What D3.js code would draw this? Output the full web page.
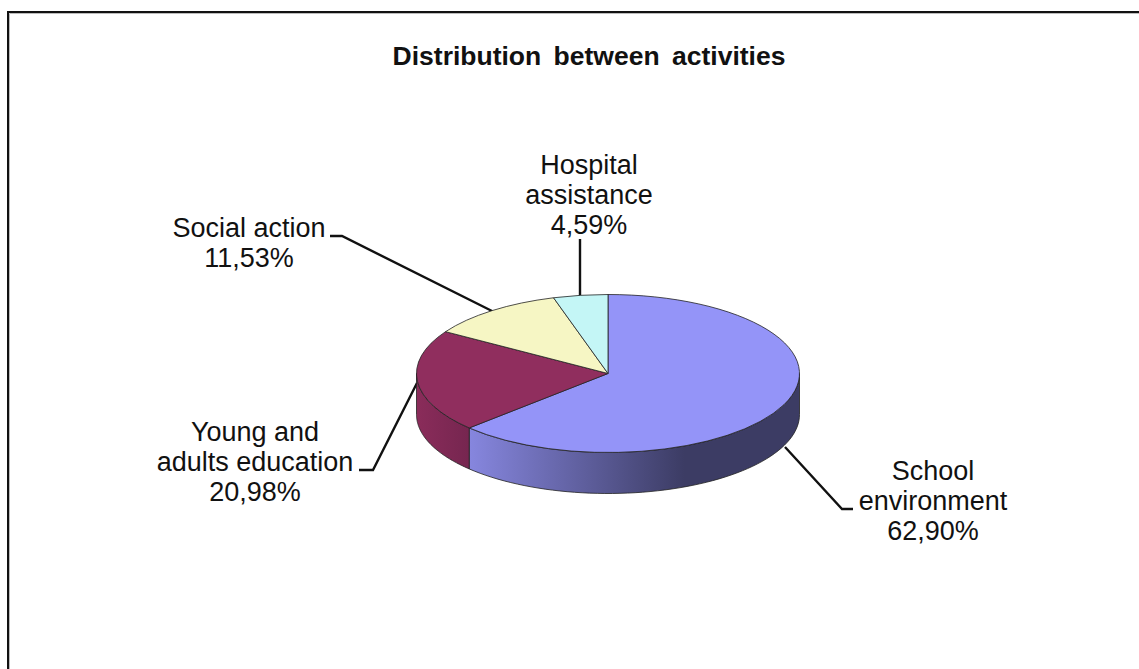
<!DOCTYPE html>
<html>
<head>
<meta charset="utf-8">
<script src="https://cdn.jsdelivr.net/npm/d3@7"></script>
<style>
  html, body { margin: 0; padding: 0; background: #fff; overflow: hidden; }
  text { font-family: "Liberation Sans", Arial, sans-serif; fill: #111; }
</style>
</head>
<body>
<svg id="chart"></svg>
<script>
const categories = ["School environment", "Young and adults education", "Social action", "Hospital assistance"];
const shares = [62.90, 20.98, 11.53, 4.59];
const shareLabels = ["62,90%", "20,98%", "11,53%", "4,59%"];
const labelLines = [["School", "environment"], ["Young and", "adults education"], ["Social action"], ["Hospital", "assistance"]];
const topColors = ["#9494f8", "#902e5e", "#f6f6c4", "#c4f6f6"];

const width = 1139;
const height = 669;
const cx = 608, cy = 373.5, rx = 191.5, ry = 79, depth = 41;

const svg = d3.select("#chart")
  .attr("width", width)
  .attr("height", height)
  .attr("viewBox", [0, 0, width, height]);

const defs = svg.append("defs");

const schoolSide = defs.append("linearGradient")
  .attr("id", "schoolSide")
  .attr("gradientUnits", "userSpaceOnUse")
  .attr("x1", cx - rx).attr("x2", cx + rx).attr("y1", 0).attr("y2", 0);
[[0.14, "#8686de"], [0.7, "#3c3c64"], [1, "#3c3c64"]].forEach(s => {
  schoolSide.append("stop").attr("offset", s[0]).attr("stop-color", s[1]);
});

const youngSide = defs.append("linearGradient")
  .attr("id", "youngSide")
  .attr("gradientUnits", "userSpaceOnUse")
  .attr("x1", cx - rx).attr("x2", cx - rx + 52).attr("y1", 0).attr("y2", 0);
[[0, "#8a2c5a"], [1, "#762650"]].forEach(s => {
  youngSide.append("stop").attr("offset", s[0]).attr("stop-color", s[1]);
});

// frame, open on the right and at the bottom
svg.append("path")
  .attr("d", "M8,669V12H1139")
  .attr("fill", "none")
  .attr("stroke", "#111")
  .attr("stroke-width", 2);
svg.append("path")
  .attr("d", "M9.5,669V13.5H1139")
  .attr("fill", "none")
  .attr("stroke", "#bbb")
  .attr("stroke-width", 1);

svg.append("text")
  .attr("x", 589)
  .attr("y", 64.5)
  .attr("text-anchor", "middle")
  .attr("font-size", 26.5)
  .attr("font-weight", "bold")
  .attr("word-spacing", 5)
  .text("Distribution between activities");

const pie = d3.pie().sort(null).value(d => d);
const slices = pie(shares);

// leader lines sit under the pie
const leaders = [
  [[785, 447], [842, 509], [853, 509]],
  [[417, 383], [373, 470], [359, 470]],
  [[492, 311], [342, 236], [330, 236]],
  [[580, 296], [580, 239]]
];
svg.append("g").selectAll("path")
  .data(leaders)
  .join("path")
  .attr("d", d3.line())
  .attr("fill", "none")
  .attr("stroke", "#111")
  .attr("stroke-width", 2.4);

// point on the rim of the tilted disc, angle clockwise from 12 o'clock
const rimX = a => cx + rx * Math.sin(a);
const rimY = a => cy - ry * Math.cos(a);

// front wall of a slice: only the part between 90 and 270 degrees shows
function wall(s) {
  const a0 = Math.max(s.startAngle, Math.PI / 2);
  const a1 = Math.min(s.endAngle, Math.PI * 1.5);
  if (a1 <= a0) return null;
  const angles = d3.range(0, 61).map(i => a0 + (a1 - a0) * i / 60);
  const top = angles.map(a => [rimX(a), rimY(a)]);
  const bottom = angles.slice().reverse().map(a => [rimX(a), rimY(a) + depth]);
  return d3.line()(top.concat(bottom)) + "Z";
}

const sideFills = ["url(#schoolSide)", "url(#youngSide)", "none", "none"];
svg.append("g").selectAll("path")
  .data(slices.filter(wall))
  .join("path")
  .attr("d", wall)
  .attr("fill", d => sideFills[d.index])
  .attr("stroke", "#222")
  .attr("stroke-width", 0.8);

const arc = d3.arc().innerRadius(0).outerRadius(rx);
svg.append("g")
  .attr("transform", `translate(${cx},${cy}) scale(1,${ry / rx})`)
  .selectAll("path")
  .data(slices)
  .join("path")
  .attr("d", arc)
  .attr("fill", d => topColors[d.index])
  .attr("stroke", "#222")
  .attr("stroke-width", 0.8)
  .attr("vector-effect", "non-scaling-stroke");

// data labels: name lines, then the share
const labelPos = [[933, 479.5], [255, 440.5], [249, 236.5], [589, 173.5]];
const lineHeight = 30;
const labels = svg.append("g").selectAll("text")
  .data(categories)
  .join("text")
  .attr("text-anchor", "middle")
  .attr("font-size", 27);
labels.each(function(d, i) {
  const rows = labelLines[i].concat(shareLabels[i]);
  d3.select(this).selectAll("tspan")
    .data(rows)
    .join("tspan")
    .attr("x", labelPos[i][0])
    .attr("y", (r, j) => labelPos[i][1] + j * lineHeight)
    .text(r => r);
});
</script>
</body>
</html>
